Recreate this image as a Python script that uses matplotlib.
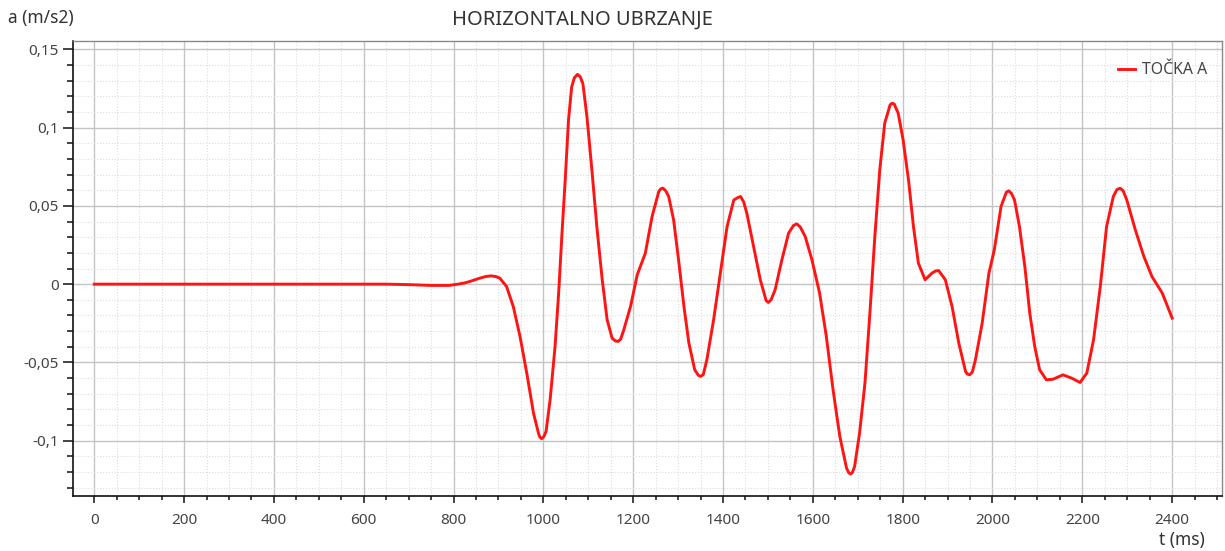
import numpy as np
import matplotlib.pyplot as plt
from matplotlib.ticker import MultipleLocator, FuncFormatter

plt.rcParams['font.family'] = ['Noto Sans', 'DejaVu Sans']

# t (ms), a (m/s2)
t_ms = [0, 100, 200, 300, 400, 500, 600, 650, 700, 750, 790, 810, 825,
        836, 858, 872, 884, 895, 903, 918, 933, 948, 963, 978, 989, 992,
        996, 1001, 1006, 1015, 1026, 1034, 1041, 1049, 1056, 1063, 1069,
        1076, 1082, 1088, 1097, 1108, 1119, 1131, 1142, 1153, 1160, 1166,
        1172, 1179, 1194, 1209,
        1227, 1242, 1257, 1261, 1266, 1272, 1279, 1290, 1301, 1313, 1324,
        1337, 1345, 1350, 1356, 1364, 1379, 1394, 1409, 1424, 1433, 1439,
        1446, 1453, 1468, 1483, 1496, 1501, 1507, 1516, 1531, 1546, 1557,
        1564, 1572, 1583, 1598,
        1615, 1630, 1645, 1660, 1675, 1680, 1684, 1688, 1693, 1704, 1716,
        1727, 1738, 1749, 1760, 1772, 1776, 1781, 1790, 1801, 1813, 1824,
        1835, 1850, 1865, 1873, 1880, 1895, 1910, 1925, 1940, 1944, 1949,
        1955, 1962, 1977, 1992,
        2004, 2019, 2031, 2036, 2042, 2049, 2060, 2072, 2083, 2094, 2105,
        2120, 2135, 2157, 2176, 2195, 2210, 2225, 2240, 2254, 2269, 2277,
        2284, 2291, 2299, 2318, 2337, 2355, 2378, 2400]
acc = [0, 0, 0, 0, 0, 0, 0, 0, -0.0003, -0.0008, -0.0008, 0.0, 0.0008,
       0.0017, 0.0038, 0.0049, 0.0053, 0.0048, 0.0038, -0.0015, -0.0143,
       -0.0334, -0.0568, -0.0824, -0.0951, -0.0976, -0.0987, -0.0974,
       -0.094, -0.0738, -0.0398, -0.0057, 0.0304, 0.0687, 0.105, 0.126,
       0.1318, 0.134, 0.1325, 0.128, 0.107, 0.073, 0.0368, 0.0028, -0.0228,
       -0.0345, -0.0362, -0.0366, -0.0352, -0.0292, -0.0143, 0.006,
       0.0198, 0.0432, 0.0592, 0.0608, 0.0613, 0.0598, 0.056, 0.041, 0.0155,
       -0.0143, -0.0377, -0.0547, -0.0582, -0.0589, -0.0578, -0.0483,
       -0.0228, 0.007, 0.0368, 0.0538, 0.0553, 0.056, 0.0525, 0.0453, 0.024,
       0.0028, -0.0105, -0.0117, -0.0100, -0.0036, 0.0155, 0.0326, 0.0375,
       0.0385, 0.0365, 0.0304, 0.0155,
       -0.0057, -0.0334, -0.0675, -0.0972, -0.1175, -0.1205, -0.1213,
       -0.1203, -0.1164, -0.0951, -0.0632, -0.0185, 0.0304, 0.073, 0.1028,
       0.1145, 0.1155, 0.1151, 0.1092, 0.0921, 0.0666, 0.0368, 0.0134,
       0.0028, 0.007, 0.0084, 0.0087, 0.0028, -0.0143, -0.0377, -0.0558,
       -0.0574, -0.0579, -0.0562, -0.0483, -0.0249, 0.007,
       0.0219, 0.0496, 0.0588, 0.0596, 0.058, 0.0538, 0.0368, 0.0113,
       -0.0185, -0.0398, -0.0547, -0.0611, -0.0607, -0.0579, -0.06,
       -0.0628, -0.0568, -0.0355, -0.0015, 0.0368, 0.056, 0.0604, 0.0613,
       0.0596, 0.0538, 0.0347, 0.0177, 0.0049, -0.0057, -0.0217]

series_name = 'TOČKA A'
title = 'HORIZONTALNO UBRZANJE'


def comma(v, pos):
    s = ('%.2f' % v).rstrip('0').rstrip('.')
    if s in ('-0', ''):
        s = '0'
    return s.replace('.', ',')


fig = plt.figure(figsize=(12.25, 5.51), dpi=100)
ax = fig.add_axes([72.7 / 1225, 1 - 496 / 551, (1222 - 72.7) / 1225, (496 - 41) / 551])

ax.plot(t_ms, acc, color='#ff1414', lw=2.1, label=series_name)

ax.set_xlim(-48, 2511)
ax.set_ylim(-0.1353, 0.1553)
ax.xaxis.set_major_locator(MultipleLocator(200))
ax.xaxis.set_minor_locator(MultipleLocator(50))
ax.yaxis.set_major_locator(MultipleLocator(0.05))
ax.yaxis.set_minor_locator(MultipleLocator(0.01))
ax.yaxis.set_major_formatter(FuncFormatter(comma))

ax.grid(which='major', color='#c4c4c4', lw=1, ls='-')
ax.grid(which='minor', color='#dddddd', lw=0.8, ls=':')
ax.set_axisbelow(True)

ax.tick_params(axis='y', which='major', length=7, width=1.1, colors='#111111',
               labelcolor='#444444', labelsize=11, pad=3)
ax.tick_params(axis='y', which='minor', length=4.3, width=1.1, colors='#111111')
ax.tick_params(axis='x', which='major', length=5, width=1.1, colors='#111111',
               labelcolor='#444444', labelsize=11, pad=7)
ax.tick_params(axis='x', which='minor', length=3, width=1.1, colors='#111111')

for side in ['left', 'bottom']:
    ax.spines[side].set_color('#111111')
    ax.spines[side].set_linewidth(1.2)
for side in ['top', 'right']:
    ax.spines[side].set_color('#888888')
    ax.spines[side].set_linewidth(1.0)

leg = ax.legend(loc='upper right', bbox_to_anchor=(1.0, 0.985), frameon=False,
                fontsize=11.4, handlelength=1.1, handletextpad=0.45,
                labelcolor='#444444')

fig.text(582 / 1225, 1 - 20 / 551, title, ha='center', va='center',
         fontsize=14.5, color='#333333')
fig.text(8 / 1225, 1 - 18 / 551, 'a (m/s2)', ha='left', va='center',
         fontsize=12.5, color='#333333')
fig.text(1205 / 1225, 1 - 540 / 551, 't (ms)', ha='right', va='center',
         fontsize=12.5, color='#333333')

fig.savefig('out.png', dpi=100)
